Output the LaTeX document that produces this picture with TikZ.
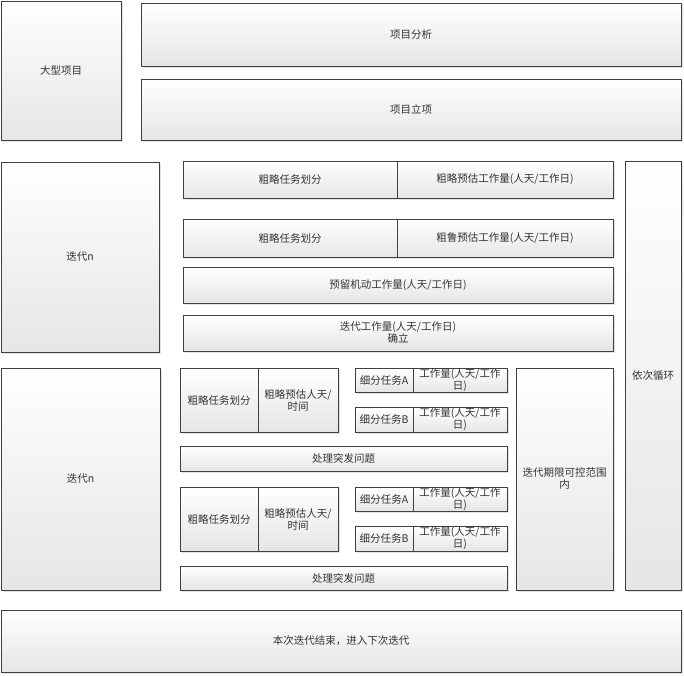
\documentclass[tikz,border=0pt]{standalone}
\usepackage{fontspec}
\newfontfamily\cjkfont{Noto Sans CJK SC}
\usetikzlibrary{shadows}
\definecolor{edge}{HTML}{404040}
\definecolor{ink}{HTML}{333333}
\tikzset{
  box/.style={draw=edge, line width=0.8pt, top color=white, bottom color=black!10,
    drop shadow={shadow xshift=1.6pt, shadow yshift=-1.6pt, fill=black!18, opacity=0.6},
    inner sep=0pt, align=center, text=ink,
    font=\cjkfont\fontsize{10.5}{12}\selectfont},
}
% place a box by its width, height and centre
\newcommand{\bx}[6]{\node[box, minimum width=#2pt, minimum height=#3pt] (#1) at (#4,#5) {#6};}
\begin{document}
\begin{tikzpicture}[x=1pt, y=-1pt]
\useasboundingbox (0,0) rectangle (684,675);
% project header
\bx{big}{120}{139}{61}{70.5}{大型项目}
\bx{ana}{540}{63}{411}{34.5}{项目分析}
\bx{est}{540}{61}{411}{109.5}{项目立项}
% first iteration: planning
\bx{itA}{158}{190}{80}{257}{迭代n}
\bx{r1l}{214}{37}{290}{179.5}{粗略任务划分}
\bx{r1r}{216}{37}{505}{179.5}{粗略预估工作量(人天/工作日)}
\bx{r2l}{214}{38}{290}{238}{粗略任务划分}
\bx{r2r}{216}{38}{505}{238}{粗鲁预估工作量(人天/工作日)}
\bx{res}{430}{36}{398}{285}{预留机动工作量(人天/工作日)}
\bx{fix}{430}{36}{398}{333}{迭代工作量(人天/工作日)\\确立}
\bx{loop}{56}{429}{653}{375.5}{依次循环}
% second iteration: execution
\bx{itB}{159}{222}{80.5}{479}{迭代n}
\bx{gal}{78}{64}{219}{400}{粗略任务划分}
\bx{gar}{80}{64}{298}{400}{粗略预估人天/\\时间}
\bx{saA}{58}{24}{384}{380}{细分任务A}
\bx{waA}{94}{24}{460}{380}{工作量(人天/工作\\日)}
\bx{saB}{58}{25}{384}{419.5}{细分任务B}
\bx{waB}{94}{25}{460}{419.5}{工作量(人天/工作\\日)}
\bx{emA}{327}{25}{343.5}{458.5}{处理突发问题}
\bx{gbl}{78}{64}{219}{519}{粗略任务划分}
\bx{gbr}{80}{64}{298}{519}{粗略预估人天/\\时间}
\bx{sbA}{58}{24}{384}{499}{细分任务A}
\bx{wbA}{94}{24}{460}{499}{工作量(人天/工作\\日)}
\bx{sbB}{58}{25}{384}{538.5}{细分任务B}
\bx{wbB}{94}{25}{460}{538.5}{工作量(人天/工作\\日)}
\bx{emB}{327}{24}{343.5}{578}{处理突发问题}
\bx{lim}{97}{222}{564.5}{479}{迭代期限可控范围\\内}
% closing bar
\bx{end}{680}{62}{341}{641}{本次迭代结束，进入下次迭代}
\end{tikzpicture}
\end{document}
